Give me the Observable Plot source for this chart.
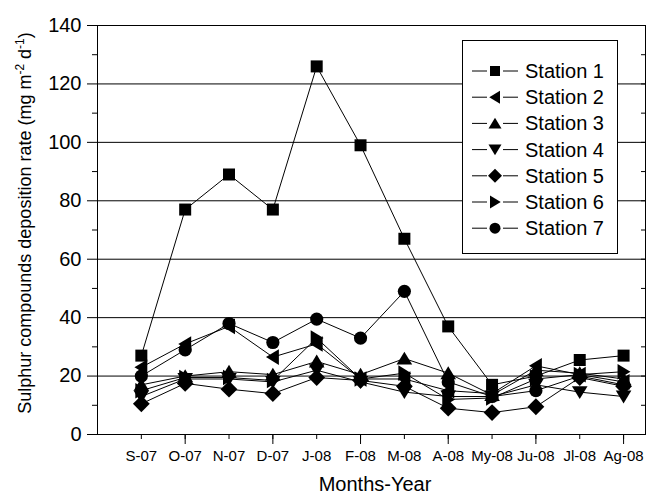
<!DOCTYPE html>
<html><head><meta charset="utf-8">
<script src="https://cdn.jsdelivr.net/npm/d3@7"></script>
<script src="https://cdn.jsdelivr.net/npm/@observablehq/plot@0.6"></script>
<style>body{margin:0;background:#fff;font-family:"Liberation Sans",Arial,sans-serif}</style>
</head><body><div id="chart"></div><script>
const months = ["S-07","O-07","N-07","D-07","J-08","F-08","M-08","A-08","My-08","Ju-08","Jl-08","Ag-08"];
const station1 = [27, 77, 89, 77, 126, 99, 67, 37, 17, 20, 25.5, 27];
const station2 = [23, 31, 37, 26.5, 31, 19, 19, 15, 14, 23.5, 20.5, 18];
const station3 = [17, 20, 21.5, 20.5, 25, 20.5, 26, 21, 13.5, 22, 21, 19];
const station4 = [13, 19, 19, 18, 22, 18, 14.5, 13, 13, 17, 14.5, 13];
const station5 = [10.5, 17.5, 15.5, 14, 19.5, 18.5, 16.5, 9, 7.5, 9.5, 19.5, 16.5];
const station6 = [15, 19.5, 19.5, 18.5, 33, 19, 21, 12, 12.5, 19, 20.5, 21.5];
const station7 = [20, 29, 38, 31.5, 39.5, 33, 49, 18, 13, 15, 20, 17];
const stationNames = ["Station 1","Station 2","Station 3","Station 4","Station 5","Station 6","Station 7"];
const seriesValues = [station1, station2, station3, station4, station5, station6, station7];
const yTicks = [0, 20, 40, 60, 80, 100, 120, 140];

function poly(pts) {
  return {draw(ctx, size) {
    const r = Math.sqrt(size / Math.PI);
    pts.forEach(([px, py], i) => i ? ctx.lineTo(px * r, py * r) : ctx.moveTo(px * r, py * r));
    ctx.closePath();
  }};
}
const tri = [[0,-1.15],[1.3,1.0],[-1.3,1.0]];
const rot = (pts, f) => pts.map(f);
const symbols = [
  poly([[-1,-1],[1,-1],[1,1],[-1,1]]),
  poly(rot(tri, ([x,y]) => [y, x])),          // left
  poly(tri),                                   // up
  poly(rot(tri, ([x,y]) => [x, -y])),          // down
  poly([[0,-1.4],[1.4,0],[0,1.4],[-1.4,0]]),   // diamond
  poly(rot(tri, ([x,y]) => [-y, x])),          // right
  {draw(ctx, size){ const r = Math.sqrt(size/Math.PI)*1.1; ctx.moveTo(r,0); ctx.arc(0,0,r,0,2*Math.PI); ctx.closePath(); }}
];

const rows = [];
seriesValues.forEach((vals, s) => vals.forEach((v, i) => rows.push({station: stationNames[s], s, m: i + 1, v})));

const marks = [
  Plot.gridY([20,40,60,80,100,120], {stroke: "#000", strokeOpacity: 1, strokeWidth: 1}),
];
stationNames.forEach((name, s) => {
  const d = rows.filter(r => r.s === s);
  marks.push(Plot.line(d, {x: "m", y: "v", stroke: "#000", strokeWidth: 1}));
});
stationNames.forEach((name, s) => {
  const d = rows.filter(r => r.s === s);
  marks.push(Plot.dot(d, {x: "m", y: "v", symbol: symbols[s], r: 6, fill: "#000", stroke: "none"}));
});
marks.push(
  Plot.frame({stroke: "#000", strokeWidth: 1}),
  Plot.axisY(yTicks, {anchor: "left", tickSize: 10, tickPadding: 6, fontSize: 20, label: null, tickFormat: d => d}),
  Plot.axisY(d3.range(10, 140, 20), {anchor: "left", tickSize: 5, tickFormat: () => "", label: null}),
  Plot.axisY(d3.range(10, 140, 10), {anchor: "right", tickSize: -5, tickFormat: () => "", label: null}),
  Plot.axisX(d3.range(1, 13), {anchor: "bottom", tickSize: 5, tickPadding: 11, fontSize: 15, label: null, tickFormat: i => months[i - 1]}),
  Plot.axisX(d3.range(2, 13, 2), {anchor: "bottom", tickSize: 10, tickFormat: () => "", label: null})
);

const plot = Plot.plot({
  width: 657, height: 497,
  marginLeft: 97, marginRight: 12, marginTop: 25, marginBottom: 63,
  style: {fontFamily: "Liberation Sans, Arial, sans-serif", color: "#000", background: "#fff", overflow: "visible"},
  x: {domain: [0, 12.5], axis: null},
  y: {domain: [0, 140], axis: null},
  marks
});
document.getElementById("chart").append(plot);

const svg = d3.select(plot);
// axis titles
svg.append("text").attr("x", 375).attr("y", 491).attr("text-anchor", "middle")
  .attr("font-size", 20).attr("fill", "#000").text("Months-Year");
const yt = svg.append("text").attr("transform", "translate(31,223) rotate(-90)")
  .attr("text-anchor", "middle").attr("font-size", 18).attr("fill", "#000");
yt.append("tspan").text("Sulphur compounds deposition rate (mg m");
yt.append("tspan").attr("font-size", 12).attr("dy", -7).text("-2");
yt.append("tspan").attr("dy", 7).text(" d");
yt.append("tspan").attr("font-size", 12).attr("dy", -7).text("-1");
yt.append("tspan").attr("dy", 7).text(")");

// legend
const lg = svg.append("g");
lg.append("rect").attr("x", 462.5).attr("y", 40.5).attr("width", 155).attr("height", 213)
  .attr("fill", "#fff").attr("stroke", "#000");
stationNames.forEach((name, s) => {
  const cy = 71 + s * 26.2;
  lg.append("line").attr("x1", 472).attr("x2", 487).attr("y1", cy).attr("y2", cy).attr("stroke", "#000");
  lg.append("line").attr("x1", 503).attr("x2", 518).attr("y1", cy).attr("y2", cy).attr("stroke", "#000");
  lg.append("path").attr("transform", `translate(495,${cy})`).attr("fill", "#000")
    .attr("d", d3.symbol(symbols[s], Math.PI * 25)());
  lg.append("text").attr("x", 525).attr("y", cy + 7).attr("text-anchor", "start")
    .attr("font-size", 20).attr("fill", "#000").text(name);
});
</script></body></html>
